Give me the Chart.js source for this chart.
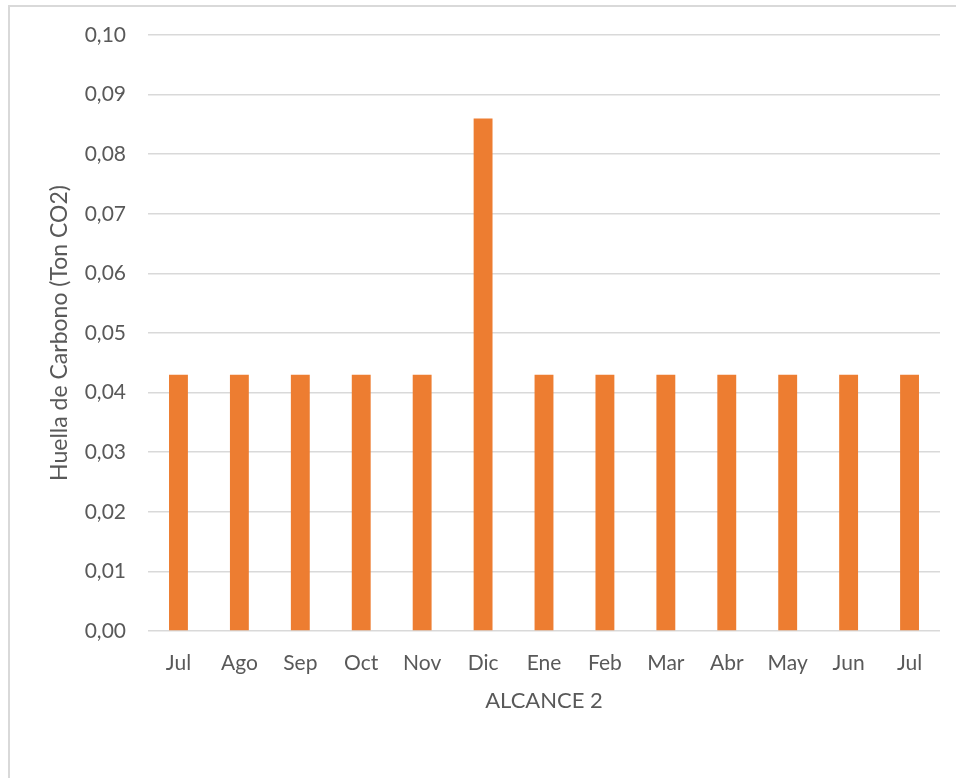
<!DOCTYPE html>
<html>
<head>
<meta charset="utf-8">
<script src="https://cdn.jsdelivr.net/npm/chart.js@4/dist/chart.umd.min.js"></script>
<style>
    html, body { margin: 0; padding: 0; background: #fff; overflow: hidden; }
    #frame { position: absolute; left: 8px; top: 5px; width: 1000px; height: 1000px; border: 2px solid #d9d9d9; }
    #wrap { position: absolute; left: 0; top: 0; width: 956px; height: 778px; }
</style>
</head>
<body>
<div id="frame"></div>
<div id="wrap"><canvas id="chart"></canvas></div>
<script>
// months shown on the x axis
const months = ['Jul', 'Ago', 'Sep', 'Oct', 'Nov', 'Dic', 'Ene', 'Feb', 'Mar', 'Abr', 'May', 'Jun', 'Jul'];
// carbon footprint per month (Ton CO2)
const huella = [0.043, 0.043, 0.043, 0.043, 0.043, 0.086, 0.043, 0.043, 0.043, 0.043, 0.043, 0.043, 0.043];

const yMin = 0;
const yMax = 0.1;
const yStep = 0.01;

const textColor = '#595959';
const gridColor = '#d9d9d9';
const fontFamily = 'Lato, "Open Sans", sans-serif';

window.createBarChart = (canvasId) => {
    const ctx = document.getElementById(canvasId).getContext('2d');
    new Chart(ctx, {
        type: 'bar',
        data: {
            labels: months,
            datasets: [{
                label: 'Huella',
                data: huella,
                backgroundColor: '#ED7D31',
                borderWidth: 0,
                categoryPercentage: 1,
                barPercentage: 0.31
            }]
        },
        options: {
            responsive: true,
            maintainAspectRatio: false,
            animation: false,
            layout: { padding: { top: 35, right: 16, left: 0, bottom: 0 } },
            plugins: {
                legend: { display: false },
                tooltip: { enabled: false }
            },
            scales: {
                x: {
                    grid: { display: false },
                    border: { display: false },
                    ticks: {
                        color: textColor,
                        font: { family: fontFamily, size: 21 },
                        padding: 12,
                        maxRotation: 0,
                        autoSkip: false
                    },
                    title: {
                        display: true,
                        text: 'ALCANCE 2',
                        color: textColor,
                        font: { family: fontFamily, size: 22 },
                        padding: { top: 0, bottom: 64 }
                    },
                    afterFit: (scale) => { scale.height = 778 - 631; }
                },
                y: {
                    min: yMin,
                    max: yMax,
                    grid: { color: gridColor, lineWidth: 1.5, drawTicks: false },
                    border: { display: false },
                    ticks: {
                        stepSize: yStep,
                        color: textColor,
                        font: { family: fontFamily, size: 21 },
                        padding: 22,
                        callback: (v) => v.toFixed(2).replace('.', ',')
                    },
                    title: {
                        display: true,
                        text: 'Huella de Carbono (Ton CO2)',
                        color: textColor,
                        font: { family: fontFamily, size: 23 },
                        padding: { top: 46, bottom: 0 }
                    },
                    afterFit: (scale) => { scale.width = 148; }
                }
            }
        }
    });
};

window.createBarChart('chart');
</script>
</body>
</html>
